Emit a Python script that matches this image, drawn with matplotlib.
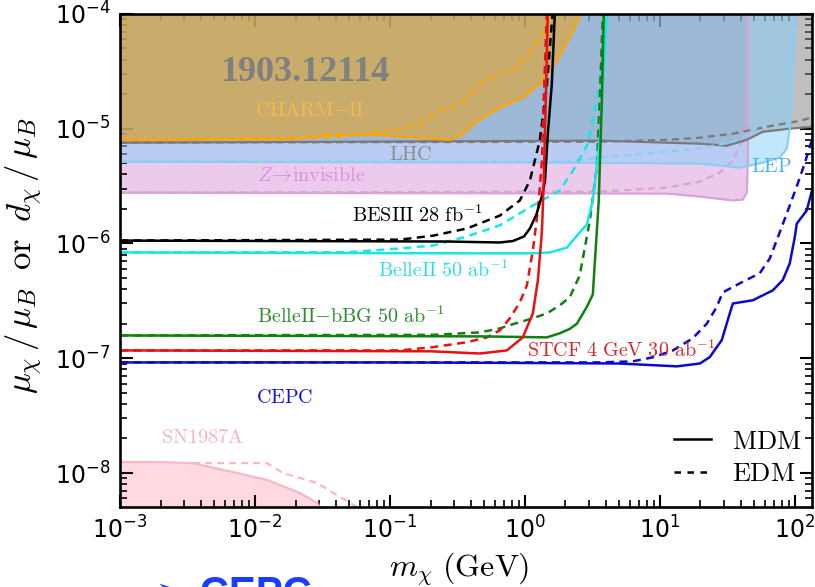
import matplotlib
matplotlib.use("Agg")
import matplotlib.pyplot as plt
from matplotlib.lines import Line2D
from matplotlib.ticker import LogLocator, NullFormatter

plt.rcParams["mathtext.fontset"] = "dejavusans"
plt.rcParams["font.family"] = ["DejaVu Sans"]

# ---------------- existing limits (excluded above the curves) ----------------
charm_mdm_x = [1e-3, 0.02, 0.035, 0.08, 0.17, 0.28, 0.34, 0.44, 0.65, 0.97, 1.29, 1.73, 2.27, 2.64]
charm_mdm_y = [8.0e-6, 8.1e-6, 8.8e-6, 8.8e-6, 8.3e-6, 8.0e-6, 8.8e-6, 1.15e-5, 1.52e-5, 1.86e-5,
               2.46e-5, 3.9e-5, 7.1e-5, 1.05e-4]
charm_edm_x = [1e-3, 0.038, 0.068, 0.119, 0.167, 0.209, 0.278, 0.372, 0.489, 0.653, 0.873, 1.146, 1.36, 1.61]
charm_edm_y = [8.0e-6, 8.35e-6, 9.05e-6, 1.0e-5, 1.1e-5, 1.35e-5, 1.52e-5, 1.86e-5, 2.61e-5, 3.0e-5,
               3.39e-5, 5.06e-5, 6.7e-5, 1.05e-4]

lhc_mdm_x = [1e-3, 3.6, 19.8, 31.3, 44.1, 57.9, 91.8, 136, 150]
lhc_mdm_y = [7.55e-6, 7.87e-6, 7.4e-6, 7.1e-6, 8.0e-6, 9.4e-6, 1.0e-5, 1.04e-5, 1.05e-5]
lhc_edm_x = [1e-3, 3.6, 11.3, 19.8, 34.8, 62.1, 109, 150]
lhc_edm_y = [7.55e-6, 7.7e-6, 8.0e-6, 8.35e-6, 9.05e-6, 1.04e-5, 1.17e-5, 1.3e-5]

lep_mdm_x = [1e-3, 3.6, 19.8, 39.2, 57.9, 77.4, 87.3, 91.8, 96.6, 100, 101.7]
lep_mdm_y = [5.16e-6, 5.05e-6, 4.96e-6, 4.58e-6, 5.05e-6, 5.6e-6, 6.7e-6, 1.0e-5, 2.46e-5, 7.1e-5, 1.05e-4]
lep_edm_x = [1e-3, 2.05, 3.59, 6.3, 11.3, 19.8, 34.8, 46.4, 62.1, 73.6, 81.5, 91.8, 100]
lep_edm_y = [5.16e-6, 5.16e-6, 5.6e-6, 5.94e-6, 6.3e-6, 6.7e-6, 7.7e-6, 9.05e-6, 1.22e-5, 1.75e-5,
             2.89e-5, 5.27e-5, 1.05e-4]

zinv_mdm_x = [1e-3, 11.3, 19.8, 34.8, 41.2, 44.1, 44.9, 44.9]
zinv_mdm_y = [2.77e-6, 2.72e-6, 2.56e-6, 2.37e-6, 2.41e-6, 2.77e-6, 5.27e-6, 1.05e-4]
zinv_edm_x = [1e-3, 3.6, 11.3, 19.8, 27.8, 34.8, 41.2, 44.1, 44.9]
zinv_edm_y = [2.77e-6, 2.83e-6, 3.07e-6, 3.46e-6, 4.14e-6, 5.27e-6, 7.87e-6, 1.22e-5, 1.05e-4]

sn_mdm_x = [1e-3, 1.81e-3, 3.48e-3, 6.88e-3, 0.0123, 0.0215, 0.0288, 0.0302, 0.033]
sn_mdm_y = [1.25e-8, 1.25e-8, 1.22e-8, 1.02e-8, 8.7e-9, 6.7e-9, 5.5e-9, 5.06e-9, 4.5e-9]
sn_edm_x = [3.48e-3, 0.0123, 0.0161, 0.0288, 0.0506, 0.057, 0.062]
sn_edm_y = [1.22e-8, 1.22e-8, 1.0e-8, 8.2e-9, 5.5e-9, 5.06e-9, 4.5e-9]

# ---------------- projected sensitivities ----------------
besiii_mdm_x = [1e-3, 0.264, 0.653, 0.815, 0.985, 1.09, 1.22, 1.34, 1.41, 1.48, 1.585, 1.67]
besiii_mdm_y = [1.06e-6, 1.04e-6, 1.02e-6, 1.05e-6, 1.15e-6, 1.35e-6, 1.8e-6, 2.6e-6, 3.5e-6, 9.0e-6,
                2.46e-5, 1.05e-4]
besiii_edm_x = [1e-3, 0.119, 0.209, 0.372, 0.653, 0.918, 1.09, 1.29, 1.456, 1.61]
besiii_edm_y = [1.06e-6, 1.08e-6, 1.17e-6, 1.35e-6, 1.75e-6, 2.37e-6, 3.53e-6, 7.9e-6, 2.37e-5, 1.05e-4]

belle_mdm_x = [1e-3, 0.464, 1.09, 1.53, 2.05, 2.55, 2.88, 3.19, 3.59, 3.79, 4.05]
belle_mdm_y = [8.35e-7, 8.2e-7, 8.2e-7, 8.35e-7, 9.2e-7, 1.25e-6, 1.46e-6, 2.37e-6, 7.9e-6, 2.46e-5, 1.05e-4]
belle_edm_x = [1e-3, 0.05, 0.119, 0.209, 0.372, 0.653, 1.146, 1.815, 2.27, 2.88, 3.19, 3.59, 4.05]
belle_edm_y = [8.35e-7, 8.4e-7, 9.05e-7, 9.6e-7, 1.15e-6, 1.44e-6, 2.14e-6, 2.89e-6, 4.3e-6, 7.1e-6,
               1.17e-5, 2.46e-5, 1.05e-4]

bbg_mdm_x = [1e-3, 0.5, 1.456, 1.815, 2.15, 2.43, 2.88, 3.19, 3.53, 3.72, 3.85]
bbg_mdm_y = [1.58e-7, 1.55e-7, 1.52e-7, 1.65e-7, 1.8e-7, 2.0e-7, 2.8e-7, 3.6e-7, 2.37e-6, 1.75e-5, 1.05e-4]
bbg_edm_x = [1e-3, 0.209, 0.464, 0.653, 0.815, 1.146, 1.456, 1.815, 2.15, 2.55, 3.03, 3.41, 3.59, 3.79]
bbg_edm_y = [1.58e-7, 1.6e-7, 1.68e-7, 1.82e-7, 1.98e-7, 2.23e-7, 2.46e-7, 2.89e-7, 3.39e-7, 5.27e-7,
             1.58e-6, 4.58e-6, 1.75e-5, 1.05e-4]

stcf_mdm_x = [1e-3, 0.2, 0.464, 0.736, 0.966, 1.146, 1.25, 1.34, 1.38, 1.43, 1.48]
stcf_mdm_y = [1.17e-7, 1.15e-7, 1.10e-7, 1.17e-7, 1.52e-7, 2.46e-7, 4.8e-7, 1.3e-6, 3.5e-6, 1.75e-5, 1.05e-4]
stcf_edm_x = [1e-3, 0.119, 0.209, 0.372, 0.523, 0.653, 0.774, 0.918, 1.035, 1.146, 1.25, 1.34, 1.38, 1.456]
stcf_edm_y = [1.17e-7, 1.17e-7, 1.25e-7, 1.38e-7, 1.52e-7, 1.75e-7, 2.23e-7, 3.07e-7, 4.3e-7, 8.7e-7,
              1.94e-6, 5.3e-6, 1.75e-5, 1.05e-4]

cepc_mdm_x = [1e-3, 0.1, 1, 5, 13.4, 19.8, 23.4, 28.8, 33, 34.8, 48.9, 68.7, 81.5, 91.8, 100, 103.5,
              122.7, 136, 150]
cepc_mdm_y = [9.2e-8, 9.2e-8, 9.1e-8, 9.0e-8, 8.5e-8, 9.0e-8, 1.02e-7, 1.44e-7, 2.46e-7, 3.0e-7, 3.2e-7,
              3.9e-7, 4.8e-7, 6.7e-7, 1.13e-6, 1.49e-6, 1.94e-6, 3.07e-6, 4.0e-6]
cepc_edm_x = [1e-3, 3.6, 6.3, 8.9, 12.5, 17.5, 22.3, 26.4, 29.3, 39.2, 55, 65.3, 77.4, 91.8, 105, 118.6,
              133.6, 150]
cepc_edm_y = [9.2e-8, 9.2e-8, 9.4e-8, 1.02e-7, 1.17e-7, 1.49e-7, 2.0e-7, 2.8e-7, 3.75e-7, 4.5e-7, 5.5e-7,
              7.4e-7, 1.25e-6, 2.14e-6, 3.3e-6, 5.0e-6, 7.9e-6, 1.4e-5]

x_ticks = [1e-3, 1e-2, 1e-1, 1e0, 1e1, 1e2]
y_ticks = [1e-8, 1e-7, 1e-6, 1e-5, 1e-4]

TOP = 1e-3
BOTTOM = 1e-10
LW = 1.8
DASH = (0, (3.2, 2.2))

fig = plt.figure(figsize=(8.15, 5.87), dpi=100)
ax = fig.add_axes([0.1472, 0.1363, 0.849, 0.840])
ax.set_xscale("log")
ax.set_yscale("log")

# excluded regions
ax.fill_between(zinv_mdm_x, zinv_mdm_y, TOP, color="plum", alpha=0.55, lw=0, zorder=1)
ax.fill_between(lhc_mdm_x, lhc_mdm_y, TOP, color="#808080", alpha=0.5, lw=0, zorder=2)
ax.fill_between(lep_mdm_x, lep_mdm_y, TOP, color="lightskyblue", alpha=0.5, lw=0, zorder=3)
ax.fill_between(charm_mdm_x, charm_mdm_y, TOP, color="#F5A000", alpha=0.5, lw=0, zorder=4)
ax.fill_between(sn_mdm_x, BOTTOM, sn_mdm_y, color="pink", alpha=0.6, lw=0, zorder=1)

# boundaries of excluded regions
bounds = [
    (zinv_mdm_x, zinv_mdm_y, zinv_edm_x, zinv_edm_y, "#D8A2DA"),
    (lhc_mdm_x, lhc_mdm_y, lhc_edm_x, lhc_edm_y, "#7A7A7A"),
    (lep_mdm_x, lep_mdm_y, lep_edm_x, lep_edm_y, "#8CCDF5"),
    (charm_mdm_x, charm_mdm_y, charm_edm_x, charm_edm_y, "#FFA500"),
    (sn_mdm_x, sn_mdm_y, sn_edm_x, sn_edm_y, "#F7B9C6"),
]
for xs, ys, xd, yd, c in bounds:
    ax.plot(xs, ys, color=c, lw=1.6, zorder=5)
    ax.plot(xd, yd, color=c, lw=1.6, ls=DASH, zorder=5)

# projected sensitivities
curves = [
    (besiii_mdm_x, besiii_mdm_y, besiii_edm_x, besiii_edm_y, "black"),
    (belle_mdm_x, belle_mdm_y, belle_edm_x, belle_edm_y, "#18E6E6"),
    (bbg_mdm_x, bbg_mdm_y, bbg_edm_x, bbg_edm_y, "#108010"),
    (stcf_mdm_x, stcf_mdm_y, stcf_edm_x, stcf_edm_y, "#E81010"),
    (cepc_mdm_x, cepc_mdm_y, cepc_edm_x, cepc_edm_y, "#0A0ACC"),
]
for xs, ys, xd, yd, c in curves:
    ax.plot(xd, yd, color=c, lw=LW, ls=DASH, zorder=6)
    ax.plot(xs, ys, color=c, lw=LW, zorder=7)

ax.set_xlim(1e-3, 134)
ax.set_ylim(5.06e-9, 1e-4)

# axes styling
for s in ax.spines.values():
    s.set_linewidth(1.9)
    s.set_zorder(10)
ax.set_xticks(x_ticks)
ax.set_yticks(y_ticks)
ax.xaxis.set_minor_locator(LogLocator(base=10, subs=range(2, 10), numticks=20))
ax.yaxis.set_minor_locator(LogLocator(base=10, subs=range(2, 10), numticks=20))
ax.xaxis.set_minor_formatter(NullFormatter())
ax.yaxis.set_minor_formatter(NullFormatter())
ax.tick_params(which="both", direction="in", top=True, right=True, zorder=11)
ax.tick_params(which="major", length=9, width=1.5, labelsize=17, pad=7)
ax.tick_params(which="minor", length=5, width=1.2)

ax.set_xlabel(r"$m_\chi\ (\mathrm{GeV})$", fontsize=23, math_fontfamily="cm")
ax.xaxis.set_label_coords(0.49, -0.088)
ax.set_ylabel(r"$\mu_\chi\,/\,\mu_B\;\;\mathrm{or}\;\;d_\chi\,/\,\mu_B$", fontsize=25,
              math_fontfamily="cm")
ax.yaxis.set_label_coords(-0.108, 0.51)

# curve labels
labels = [
    (0.275, 0.805, r"$\mathrm{CHARM{-}II}$", "#F7B850"),
    (0.420, 0.714, r"$\mathrm{LHC}$", "#8C8C8C"),
    (0.276, 0.673, r"$Z\!\rightarrow\!\mathrm{invisible}$", "#DC8EDF"),
    (0.430, 0.592, r"$\mathrm{BESIII\ 28\ fb}^{-1}$", "black"),
    (0.468, 0.481, r"$\mathrm{BelleII\ 50\ ab}^{-1}$", "#30DCE0"),
    (0.334, 0.387, r"$\mathrm{BelleII{-}bBG\ 50\ ab}^{-1}$", "#2A8C2A"),
    (0.724, 0.318, r"$\mathrm{STCF\ 4\ GeV\ 30\ ab}^{-1}$", "#D42828"),
    (0.238, 0.223, r"$\mathrm{CEPC}$", "#1414C8"),
    (0.942, 0.690, r"$\mathrm{LEP}$", "#46B4E6"),
    (0.119, 0.140, r"$\mathrm{SN1987A}$", "#F5B4C3"),
]
for fx, fy, s, c in labels:
    ax.text(fx, fy, s, transform=ax.transAxes, ha="center", va="center", fontsize=14.5,
            color=c, math_fontfamily="cm", zorder=12)

ax.text(0.267, 0.882, "1903.12114", transform=ax.transAxes, ha="center", va="center",
        fontsize=26, fontweight="bold", family=["Liberation Serif", "DejaVu Serif"],
        color="#808080", zorder=12)

# line-style key
handles = [Line2D([], [], color="black", lw=LW),
           Line2D([], [], color="black", lw=LW, ls=(0, (2.6, 2.6)))]
leg = ax.legend(handles, [r"$\mathrm{MDM}$", r"$\mathrm{EDM}$"], loc="lower right",
                bbox_to_anchor=(0.985, 0.04), frameon=False, fontsize=19,
                handlelength=1.4, handletextpad=0.8, labelspacing=0.25,
                borderpad=0, borderaxespad=0)
for t in leg.get_texts():
    t.set_math_fontfamily("cm")
leg.set_zorder(12)

fig.text(155 / 815, 1 - 605 / 587, "\u27a2 CEPC", color="#1A3CFF", fontsize=29,
         fontweight="bold", family=["Liberation Sans", "DejaVu Sans"], va="baseline")

fig.savefig("out.png", dpi=100)
